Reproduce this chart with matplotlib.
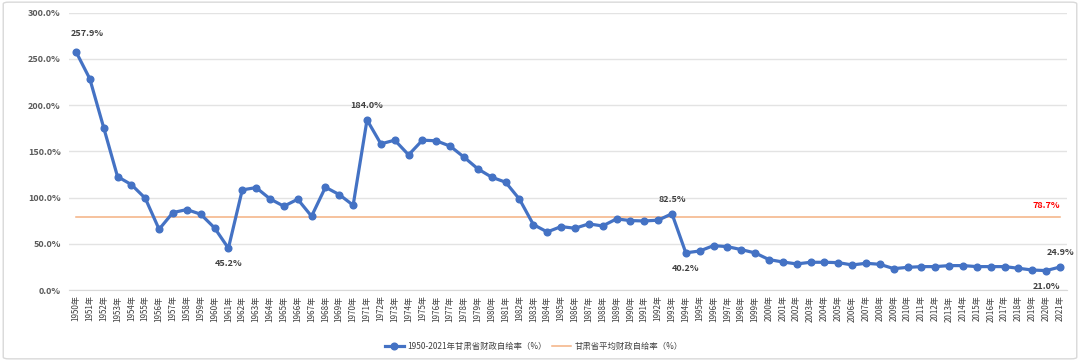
import matplotlib.pyplot as plt
from matplotlib.patches import FancyBboxPatch
import matplotlib.ticker as mticker

plt.rcParams['font.family'] = ['Noto Sans CJK SC', 'DejaVu Sans']

# 甘肃省财政自给率 (%), 1950-2021
years = list(range(1950, 2022))
ratio = [257.9, 228.5, 175.8, 122.7, 114.0, 99.3, 65.7, 83.8, 87.0, 82.0,
         67.2, 45.2, 108.3, 110.8, 98.6, 90.6, 98.2, 79.8, 111.2, 103.2,
         91.7, 184.0, 158.1, 162.1, 146.2, 162.1, 161.4, 155.6, 143.7, 131.0,
         122.0, 116.6, 98.2, 70.8, 62.8, 68.6, 66.8, 71.5, 69.3, 76.9,
         75.1, 74.7, 75.5, 82.5, 40.2, 42.2, 48.0, 46.9, 43.7, 40.1,
         32.9, 30.3, 28.2, 30.0, 30.0, 29.6, 27.1, 28.9, 27.8, 23.1,
         24.5, 25.3, 25.3, 26.4, 26.4, 25.3, 25.3, 25.3, 23.5, 21.6,
         21.0, 24.9]
avg_ratio = 78.7
tick_labels = [f'{y}年' for y in years]

# labelled points: index -> above/below
labelled = {0: 'above', 21: 'above', 11: 'below', 43: 'above', 44: 'below',
            71: 'above', 70: 'below'}

fig = plt.figure(figsize=(10.8, 3.61), dpi=100)
ax = fig.add_axes([69 / 1080, 1 - 290 / 361, 998 / 1080, (290 - 12.7) / 361])

x = list(range(len(years)))
ax.plot(x, [avg_ratio] * len(x), color='#F4B183', lw=1.1, zorder=2,
        label='甘肃省平均财政自给率（%）')
ax.plot(x, ratio, color='#4472C4', lw=2.3, marker='o', ms=4.8, zorder=3,
        label='1950-2021年甘肃省财政自给率（%）')

for i, pos in labelled.items():
    dy = 7 if pos == 'above' else -8
    va = 'bottom' if pos == 'above' else 'top'
    dx = 8 if i == 0 else 0
    if i == 0:
        dy = 10
    ax.annotate(f'{ratio[i]:.1f}%', (x[i], ratio[i]), xytext=(dx, dy),
                textcoords='offset points', ha='center', va=va,
                fontsize=6.5, color='#404040', fontweight='bold')

ax.annotate(f'{avg_ratio:.1f}%', (x[-1], avg_ratio), xytext=(-10, 5),
            textcoords='offset points', ha='center', va='bottom',
            fontsize=6.5, color='#FF0000', fontweight='bold')

ax.set_xlim(-0.5, len(x) - 0.5)
ax.set_ylim(0, 300)
ax.yaxis.set_major_locator(mticker.MultipleLocator(50))
ax.yaxis.set_major_formatter(mticker.FuncFormatter(lambda v, p: f'{v:.1f}%'))
ax.set_xticks(x)
ax.set_xticklabels(tick_labels, rotation=90, fontsize=5.8, color='#404040')
ax.tick_params(axis='y', labelsize=6.5, labelcolor='#595959', length=0, pad=6)
ax.tick_params(axis='x', length=0, pad=4)
for lbl in ax.get_yticklabels():
    lbl.set_fontweight('bold')

ax.grid(axis='y', color='#E3E3E3', lw=1)
ax.set_axisbelow(True)
for s in ['top', 'right', 'left']:
    ax.spines[s].set_visible(False)
ax.spines['bottom'].set_color('#D9D9D9')

handles, labels = ax.get_legend_handles_labels()
fig.legend(handles[::-1], labels[::-1], loc='center', bbox_to_anchor=(0.494, 0.04),
           ncol=2, frameon=False, fontsize=6, handlelength=2.3,
           handletextpad=0.4, columnspacing=0.6, labelcolor='#404040')

fig.patches.append(FancyBboxPatch((0.003, 0.006), 0.994, 0.988,
                                  boxstyle='round,pad=0,rounding_size=0.005',
                                  transform=fig.transFigure, fill=False,
                                  edgecolor='#D9D9D9', lw=1))

fig.savefig('out.png', dpi=100)
